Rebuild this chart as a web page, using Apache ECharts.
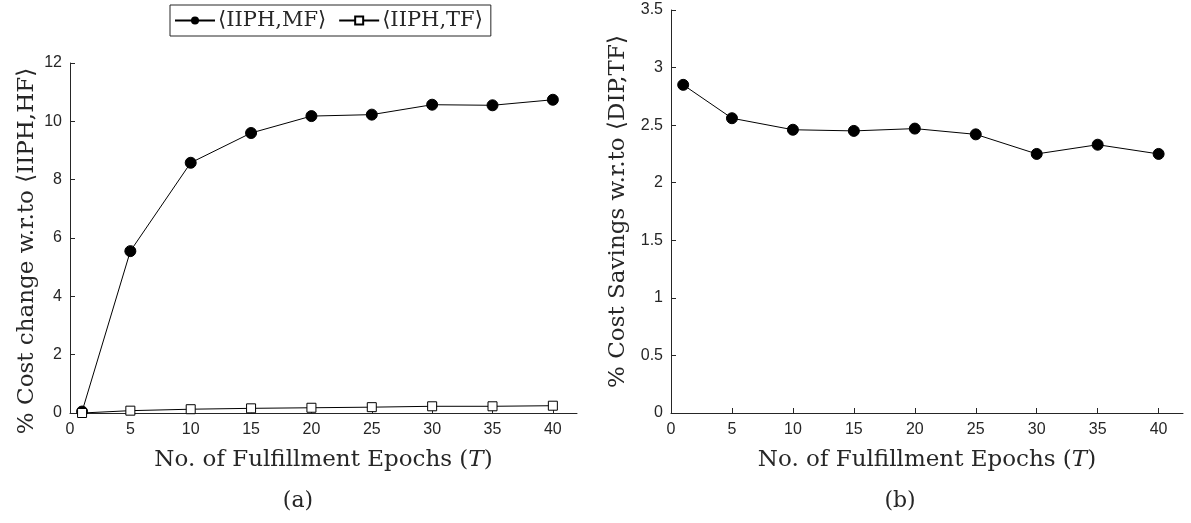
<!DOCTYPE html>
<html>
<head>
<meta charset="utf-8">
<script src="https://cdn.jsdelivr.net/npm/echarts@6/dist/echarts.min.js"></script>
<style>
html,body{margin:0;padding:0;background:#fff;}
#chart{width:1191px;height:523px;}
</style>
</head>
<body>
<div id="chart"></div>
<script>
// ---- data ----
const epochs = [1, 5, 10, 15, 20, 25, 30, 35, 40];
const costChangeMF = [0.05, 5.55, 8.58, 9.6, 10.18, 10.23, 10.57, 10.55, 10.74];
const costChangeTF = [0.0, 0.08, 0.13, 0.16, 0.18, 0.2, 0.23, 0.23, 0.25];
const costSavingsDIP = [2.85, 2.56, 2.46, 2.45, 2.47, 2.42, 2.25, 2.33, 2.25];
const xTicks = [0, 5, 10, 15, 20, 25, 30, 35, 40];
const yTicksLeft = [0, 2, 4, 6, 8, 10, 12];
const yTicksRight = [0, 0.5, 1, 1.5, 2, 2.5, 3, 3.5];
const nameMF = '\u27E8IIPH,MF\u27E9';
const nameTF = '\u27E8IIPH,TF\u27E9';
const xTitle = 'No. of Fulfillment Epochs ({i|T})';
const yTitleLeft = '% Cost change w.r.to \u27E8IIPH,HF\u27E9';
const yTitleRight = '% Cost Savings w.r.to \u27E8DIP,TF\u27E9';

const serif = "'DejaVu Serif','Liberation Serif',serif";
const sans = "'Liberation Sans',Arial,sans-serif";
const axisColor = '#262626';

const pair = (xs, ys) => xs.map((x, i) => [x, ys[i]]);

function xAxisCfg(gi) {
  return {
    type: 'value', gridIndex: gi, min: 0, max: 42,
    name: xTitle, nameLocation: 'middle', nameGap: 36,
    nameTextStyle: {fontFamily: serif, fontSize: 23, color: '#262626',
      rich: {i: {fontFamily: serif, fontStyle: 'italic', fontSize: 23, color: '#262626'}}},
    axisLine: {show: true, lineStyle: {color: axisColor, width: 1}},
    axisTick: {show: true, inside: true, length: 5, customValues: xTicks, lineStyle: {color: axisColor}},
    axisLabel: {customValues: xTicks, fontFamily: sans, fontSize: 16, color: '#262626', margin: 9},
    splitLine: {show: false}
  };
}
function yAxisCfg(gi, max, interval, ticks, title, gap, pad) {
  return {
    type: 'value', gridIndex: gi, min: 0, max: max, interval: interval,
    name: title, nameLocation: 'middle', nameGap: gap,
    nameTextStyle: {fontFamily: serif, fontSize: 23, color: '#262626', padding: pad},
    axisLine: {show: true, lineStyle: {color: axisColor, width: 1}},
    axisTick: {show: true, inside: true, length: 5, customValues: ticks, lineStyle: {color: axisColor}},
    axisLabel: {customValues: ticks, fontFamily: sans, fontSize: 16, color: '#262626', margin: 8},
    splitLine: {show: false}
  };
}

const chart = echarts.init(document.getElementById('chart'), null, {renderer: 'canvas'});
chart.setOption({
  animation: false,
  backgroundColor: '#fff',
  title: [
    {text: '(a)', left: 293, top: 485, textAlign: 'center',
      textStyle: {fontFamily: serif, fontSize: 22, fontWeight: 'normal', color: '#262626'}},
    {text: '(b)', left: 895, top: 485, textAlign: 'center',
      textStyle: {fontFamily: serif, fontSize: 22, fontWeight: 'normal', color: '#262626'}}
  ],
  legend: {
    left: 170, top: 5, orient: 'horizontal',
    data: [nameMF, nameTF],
    itemWidth: 40, itemHeight: 10, itemGap: 12,
    padding: [5, 8, 5, 4],
    borderColor: '#262626', borderWidth: 1, borderRadius: 0,
    textStyle: {fontFamily: serif, fontSize: 21, color: '#262626', padding: [0, 0, 0, -2]}
  },
  grid: [
    {left: 70, right: 614, top: 63, bottom: 110, containLabel: false},
    {left: 671, right: 8, top: 10, bottom: 110, containLabel: false}
  ],
  xAxis: [xAxisCfg(0), xAxisCfg(1)],
  yAxis: [
    yAxisCfg(0, 12, 2, yTicksLeft, yTitleLeft, 31, [0, 26, 0, 0]),
    yAxisCfg(1, 3.5, 0.5, yTicksRight, yTitleRight, 41, [0, 0, 0, 0])
  ],
  series: [
    {name: nameMF, type: 'line', xAxisIndex: 0, yAxisIndex: 0,
      data: pair(epochs, costChangeMF), symbol: 'circle', symbolSize: 11,
      lineStyle: {color: '#000', width: 1}, itemStyle: {color: '#000', borderColor: '#000'}},
    {name: nameTF, type: 'line', xAxisIndex: 0, yAxisIndex: 0,
      data: pair(epochs, costChangeTF), symbol: 'rect', symbolSize: 9,
      lineStyle: {color: '#000', width: 1}, itemStyle: {color: '#fff', borderColor: '#000', borderWidth: 1}},
    {name: 'DIP', type: 'line', xAxisIndex: 1, yAxisIndex: 1,
      data: pair(epochs, costSavingsDIP), symbol: 'circle', symbolSize: 11,
      lineStyle: {color: '#000', width: 1}, itemStyle: {color: '#000', borderColor: '#000'}}
  ]
});
</script>
</body>
</html>
